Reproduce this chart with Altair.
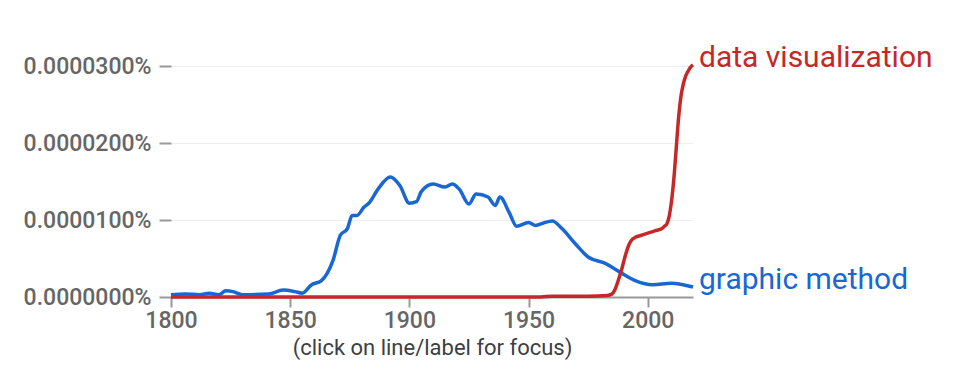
import altair as alt
import pandas as pd

# Frequency of each phrase, in percent of all words in the corpus
gm_years = [1800, 1806, 1812, 1816, 1820, 1823, 1826, 1830, 1841, 1847, 1852, 1855,
            1859, 1863, 1868, 1871, 1874, 1876, 1878, 1881, 1883, 1887, 1892, 1896,
            1900, 1903, 1905, 1910, 1915, 1918, 1921, 1925, 1928, 1933, 1936, 1938,
            1942, 1945, 1950, 1953, 1956, 1960, 1964, 1970, 1975, 1982, 1988, 1995,
            2002, 2010, 2019]
gm_values = [0.03e-5, 0.04e-5, 0.03e-5, 0.05e-5, 0.03e-5, 0.08e-5, 0.07e-5, 0.03e-5,
             0.04e-5, 0.09e-5, 0.07e-5, 0.05e-5, 0.16e-5, 0.21e-5, 0.48e-5, 0.80e-5,
             0.89e-5, 1.06e-5, 1.06e-5, 1.17e-5, 1.22e-5, 1.41e-5, 1.56e-5, 1.45e-5,
             1.22e-5, 1.24e-5, 1.37e-5, 1.47e-5, 1.43e-5, 1.47e-5, 1.40e-5, 1.21e-5,
             1.34e-5, 1.30e-5, 1.19e-5, 1.30e-5, 1.09e-5, 0.92e-5, 0.97e-5, 0.93e-5,
             0.96e-5, 0.99e-5, 0.89e-5, 0.68e-5, 0.52e-5, 0.44e-5, 0.33e-5, 0.21e-5,
             0.16e-5, 0.18e-5, 0.13e-5]

dv_years = [1800, 1900, 1955, 1960, 1975, 1983, 1985, 1986, 1988, 1989, 1990, 1991,
            1992, 1993, 1995, 1997, 2000, 2003, 2006, 2007, 2008, 2009, 2010, 2011,
            2012, 2013, 2014, 2015, 2016, 2017, 2018, 2019]
dv_values = [0.0, 0.0, 0.0, 0.01e-5, 0.01e-5, 0.02e-5, 0.04e-5, 0.08e-5, 0.25e-5,
             0.35e-5, 0.47e-5, 0.58e-5, 0.67e-5, 0.73e-5, 0.78e-5, 0.80e-5, 0.83e-5,
             0.86e-5, 0.89e-5, 0.92e-5, 0.95e-5, 1.05e-5, 1.25e-5, 1.55e-5, 1.95e-5,
             2.35e-5, 2.62e-5, 2.78e-5, 2.88e-5, 2.94e-5, 2.99e-5, 3.02e-5]

series_names = ["graphic method", "data visualization"]
series_colors = ["#1967d2", "#c62828"]
x_ticks = [1800, 1850, 1900, 1950, 2000]
y_ticks = [0, 1e-5, 2e-5, 3e-5]

gm = pd.DataFrame({"year": gm_years, "pct": gm_values, "ngram": series_names[0]})
dv = pd.DataFrame({"year": dv_years, "pct": dv_values, "ngram": series_names[1]})
data = pd.concat([gm, dv], ignore_index=True)
ends = pd.DataFrame({
    "year": [gm_years[-1], dv_years[-1]],
    "pct": [gm_values[-1], dv_values[-1]],
    "ngram": series_names,
})

FONT = "Roboto"

x_enc = alt.X(
    "year:Q",
    scale=alt.Scale(domain=[1800, 2019], nice=False, zero=False),
    axis=alt.Axis(
        values=x_ticks, format="d",
        title="(click on line/label for focus)",
        titleFont=FONT, titleFontSize=22, titleFontWeight="normal",
        titleColor="#3c4043", titlePadding=5,
        labelFont=FONT, labelFontSize=23, labelFontWeight=500,
        labelColor="#666666", labelPadding=2, labelFlush=False,
        labelOverlap=False,
        domainColor="#999999", domainWidth=2,
        tickColor="#999999", tickWidth=2, tickSize=10,
        grid=False,
    ),
)
y_enc = alt.Y(
    "pct:Q",
    scale=alt.Scale(domain=[0, 3.2e-5], nice=False),
    axis=alt.Axis(
        values=y_ticks, title=None,
        labelExpr="format(datum.value, '.7f') + '%'",
        labelFont=FONT, labelFontSize=23, labelFontWeight=500,
        labelColor="#666666", labelPadding=8,
        domain=False,
        tickColor="#999999", tickWidth=2, tickSize=12,
        grid=True, gridColor="#eeeeee", gridWidth=1,
    ),
)
color_enc = alt.Color(
    "ngram:N",
    scale=alt.Scale(domain=series_names, range=series_colors),
    legend=None,
)

base = alt.Chart(data).encode(x=x_enc, y=y_enc, color=color_enc)

blue_line = base.transform_filter(
    alt.datum.ngram == series_names[0]
).mark_line(strokeWidth=3.5, interpolate="monotone")
red_line = base.transform_filter(
    alt.datum.ngram == series_names[1]
).mark_line(strokeWidth=3.5, interpolate="monotone")

labels = alt.Chart(ends).mark_text(
    align="left", baseline="alphabetic", dx=6, dy=2,
    font=FONT, fontSize=30,
).encode(
    x=alt.X("year:Q"),
    y=alt.Y("pct:Q"),
    text="ngram:N",
    color=color_enc,
)

chart = alt.layer(blue_line, red_line, labels).properties(
    width=522,
    height=246,
    background="white",
    autosize=alt.AutoSizeParams(type="none"),
    padding={"left": 171, "top": 51, "right": 277, "bottom": 81},
).configure_view(stroke=None)

chart.save("out.html", embed_options={"renderer": "svg", "actions": False})
